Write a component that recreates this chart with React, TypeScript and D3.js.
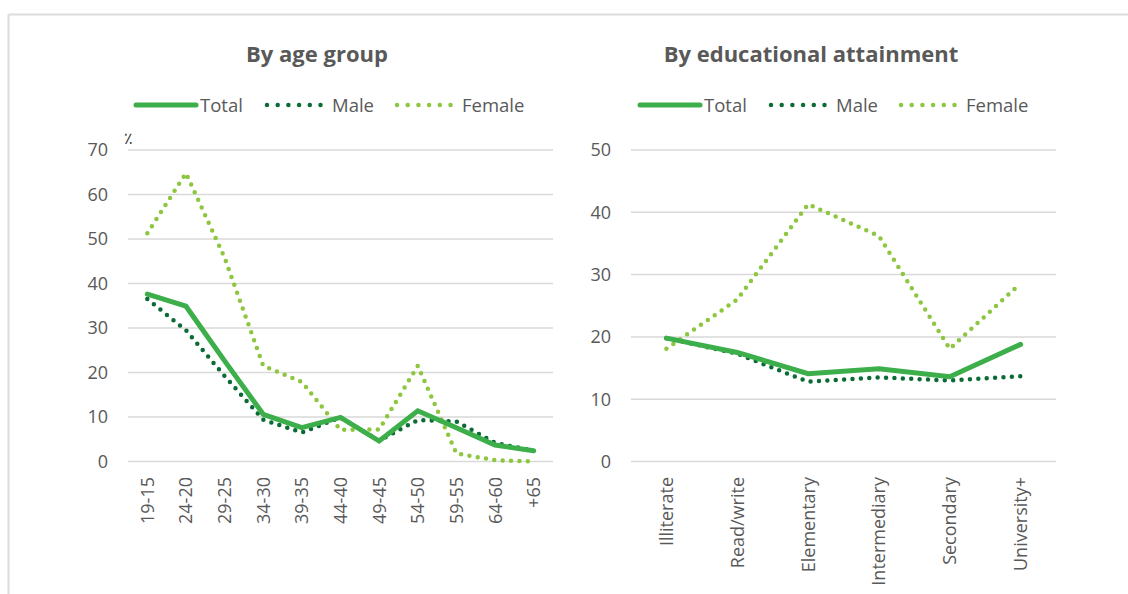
import React from "react";
import * as d3 from "d3";

const ageGroups = ["19-15", "24-20", "29-25", "34-30", "39-35", "44-40", "49-45", "54-50", "59-55", "64-60", "+65"];
const ageTotal = [37.6, 34.9, 22.6, 10.6, 7.6, 9.9, 4.6, 11.4, 7.6, 3.7, 2.4];
const ageMale = [36.5, 29.5, 19.2, 9.4, 6.5, 9.9, 4.7, 9.3, 9.0, 4.2, 2.4];
const ageFemale = [51.3, 64.8, 45.8, 21.5, 17.9, 7.1, 7.2, 21.5, 1.8, 0.3, 0];

const eduLevels = ["Illiterate", "Read/write", "Elementary", "Intermediary", "Secondary", "University+"];
const eduTotal = [19.8, 17.5, 14.1, 14.9, 13.6, 18.8];
const eduMale = [19.8, 17.3, 12.8, 13.5, 13.0, 13.7];
const eduFemale = [18.1, 26.0, 41.3, 36.2, 18.1, 28.6];

const ageTicks = [0, 10, 20, 30, 40, 50, 60, 70];
const eduTicks = [0, 10, 20, 30, 40, 50];

const C_TOTAL = "#3cae4a";
const C_MALE = "#0b6b35";
const C_FEMALE = "#8dc63f";
const TXT = "#595959";
const FONT = "'Open Sans', 'Noto Sans', sans-serif";

type PanelProps = {
  title: string;
  cx: number;
  cats: string[];
  total: number[];
  male: number[];
  female: number[];
  ticks: number[];
  x0: number;
  x1: number;
  legendX: number;
  pct?: boolean;
};

const Panel = ({ title, cx, cats, total, male, female, ticks, x0, x1, legendX, pct }: PanelProps) => {
  const x = d3.scaleBand<string>().domain(cats).range([x0, x1]).padding(0);
  const y = d3.scaleLinear().domain([0, d3.max(ticks) as number]).range([461.5, 150]);
  const px = (i: number) => (x(cats[i]) as number) + x.bandwidth() / 2;
  const line = d3
    .line<number>()
    .x((_, i) => px(i))
    .y((d) => y(d));

  const lx = legendX;
  return (
    <g fontFamily={FONT}>
      <text x={cx} y={62} textAnchor="middle" fontSize={22} fontWeight={700} fill={TXT}>
        {title}
      </text>

      {/* legend */}
      <line x1={lx} x2={lx + 60} y1={105} y2={105} stroke={C_TOTAL} strokeWidth={5} strokeLinecap="round" />
      <text x={lx + 64} y={111.5} fontSize={18.5} fill={TXT}>Total</text>
      <line x1={lx + 131} x2={lx + 185.5} y1={105} y2={105} stroke={C_MALE} strokeWidth={4.5} strokeLinecap="round" strokeDasharray="0 10.7" />
      <text x={lx + 196} y={111.5} fontSize={18.5} fill={TXT}>Male</text>
      <line x1={lx + 261} x2={lx + 315.5} y1={105} y2={105} stroke={C_FEMALE} strokeWidth={4.5} strokeLinecap="round" strokeDasharray="0 10.7" />
      <text x={lx + 326} y={111.5} fontSize={18.5} fill={TXT}>Female</text>

      {ticks.map((t) => (
        <g key={t}>
          <line x1={x0} x2={x1} y1={y(t)} y2={y(t)} stroke="#d9d9d9" strokeWidth={1.5} />
          <text x={x0 - 20} y={y(t)} dy="0.36em" textAnchor="end" fontSize={18} fill={TXT}>
            {t}
          </text>
        </g>
      ))}
      {pct && (
        <text x={128} y={144} textAnchor="middle" fontSize={16} fill="#333">٪</text>
      )}

      {cats.map((c, i) => (
        <text
          key={c}
          transform={`translate(${px(i)},${477}) rotate(-90)`}
          textAnchor="end"
          dy="0.36em"
          fontSize={18}
          fill={TXT}
        >
          {c}
        </text>
      ))}

      <path d={line(female) as string} fill="none" stroke={C_FEMALE} strokeWidth={4.5} strokeLinecap="round" strokeDasharray="0 8.4" />
      <path d={line(male) as string} fill="none" stroke={C_MALE} strokeWidth={4.5} strokeLinecap="round" strokeDasharray="0 8.4" />
      <path d={line(total) as string} fill="none" stroke={C_TOTAL} strokeWidth={5} strokeLinejoin="miter" strokeLinecap="round" />
    </g>
  );
};

export default function App() {
  return (
    <svg
      width={1128}
      height={594}
      style={{ position: "absolute", left: 0, top: 0, background: "#fff" }}
    >
      <line x1={8.5} x2={1128} y1={14.5} y2={14.5} stroke="#dcdcdc" strokeWidth={2} />
      <line x1={8.5} x2={8.5} y1={14.5} y2={594} stroke="#dcdcdc" strokeWidth={2} />
      <Panel
        title="By age group"
        cx={317}
        cats={ageGroups}
        total={ageTotal}
        male={ageMale}
        female={ageFemale}
        ticks={ageTicks}
        x0={128}
        x1={553}
        legendX={136}
        pct
      />
      <Panel
        title="By educational attainment"
        cx={811}
        cats={eduLevels}
        total={eduTotal}
        male={eduMale}
        female={eduFemale}
        ticks={eduTicks}
        x0={631}
        x1={1056}
        legendX={640}
      />
    </svg>
  );
}
